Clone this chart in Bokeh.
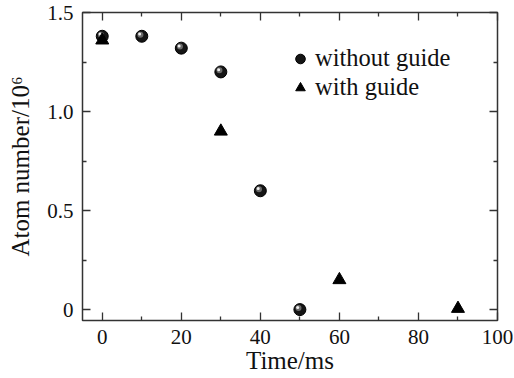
from bokeh.plotting import figure
from bokeh.models import Range1d, LinearAxis, FixedTicker, Legend, LegendItem
from bokeh.transform import dodge
from bokeh.embed import file_html
from bokeh.resources import INLINE

# ---- data ----
t_without = [0, 10, 20, 30, 40, 50]
n_without = [1.38, 1.38, 1.32, 1.20, 0.60, 0.00]
t_with = [0, 30, 60, 90]
n_with = [1.36, 0.90, 0.15, 0.005]
x_ticks = [0, 20, 40, 60, 80, 100]
x_minor = [10, 30, 50, 70, 90]
y_ticks = [0, 0.5, 1.0, 1.5]
y_tick_labels = ["0", "0.5", "1.0", "1.5"]
y_minor = [0.25, 0.75, 1.25]
label_without = "without guide"
label_with = "with guide"
x_title = "Time/ms"
y_title = "Atom number/10\u2076"

FONT = "Liberation Serif"
FRAME = "#333333"

p = figure(width=513, height=377, output_backend="svg", toolbar_location=None,
           x_range=Range1d(-5, 100), y_range=Range1d(-0.055, 1.5),
           min_border_left=82, min_border_right=16, min_border_top=12,
           min_border_bottom=57, x_axis_location=None, y_axis_location=None)
p.xgrid.visible = False
p.ygrid.visible = False
p.outline_line_color = FRAME
p.outline_line_width = 1.5
p.background_fill_color = "white"
p.border_fill_color = "white"


def style_axis(ax, ticks, minor, labels=True):
    ax.ticker = FixedTicker(ticks=ticks, minor_ticks=minor)
    ax.axis_line_color = None
    ax.major_tick_line_color = FRAME
    ax.minor_tick_line_color = FRAME
    ax.major_tick_line_width = 1.3
    ax.minor_tick_line_width = 1.3
    ax.major_tick_in = 8
    ax.major_tick_out = 0
    ax.minor_tick_in = 4
    ax.minor_tick_out = 0
    ax.major_label_text_font = FONT
    ax.axis_label_text_font = FONT
    ax.axis_label_text_font_style = "normal"
    ax.major_label_text_color = "#111111"
    ax.axis_label_text_color = "#111111"
    ax.major_label_text_font_size = "21px"
    ax.axis_label_text_font_size = "25px"
    if not labels:
        ax.major_label_overrides = {t: "" for t in ticks}
        ax.major_label_standoff = 0


xb = LinearAxis(axis_label=x_title)
style_axis(xb, x_ticks, x_minor)
xb.major_label_standoff = 9
xb.axis_label_standoff = 0
p.add_layout(xb, "below")

yl = LinearAxis(axis_label=y_title)
style_axis(yl, y_ticks, y_minor)
yl.major_label_overrides = {t: s for t, s in zip(y_ticks, y_tick_labels)}
yl.major_label_standoff = 9
yl.axis_label_standoff = 10
p.add_layout(yl, "left")

xt = LinearAxis()
style_axis(xt, x_ticks, x_minor, labels=False)
p.add_layout(xt, "above")

yr = LinearAxis()
style_axis(yr, y_ticks, y_minor, labels=False)
p.add_layout(yr, "right")

# spheres: dark ball + soft highlight
r1 = p.scatter(t_without, n_without, marker="circle", size=12,
               fill_color="#151515", line_color="#000000", line_width=1)
r2 = p.scatter(x=dodge("x", -0.35), y=dodge("y", 0.008),
               source=dict(x=t_without, y=n_without),
               marker="circle", size=6, fill_color="#6a6a6a", line_color=None)
r3 = p.scatter(x=dodge("x", -0.55), y=dodge("y", 0.011),
               source=dict(x=t_without, y=n_without),
               marker="circle", size=3, fill_color="#f0f0f0", line_color=None)

r4 = p.scatter(t_with, n_with, marker="triangle", size=13,
               fill_color="#000000", line_color="#000000")

legend = Legend(items=[LegendItem(label=label_without, renderers=[r1]),
                       LegendItem(label=label_with, renderers=[r4])],
                location=(206, 219))
legend.border_line_color = None
legend.background_fill_color = None
legend.background_fill_alpha = 0
legend.label_text_font = FONT
legend.label_text_font_size = "24.5px"
legend.label_text_color = "#111111"
legend.glyph_width = 24
legend.glyph_height = 27
legend.label_height = 27
legend.label_standoff = 3
legend.spacing = 1
legend.padding = 0
legend.margin = 0
p.add_layout(legend, "center")

open("out.html", "w").write(file_html(p, INLINE))
